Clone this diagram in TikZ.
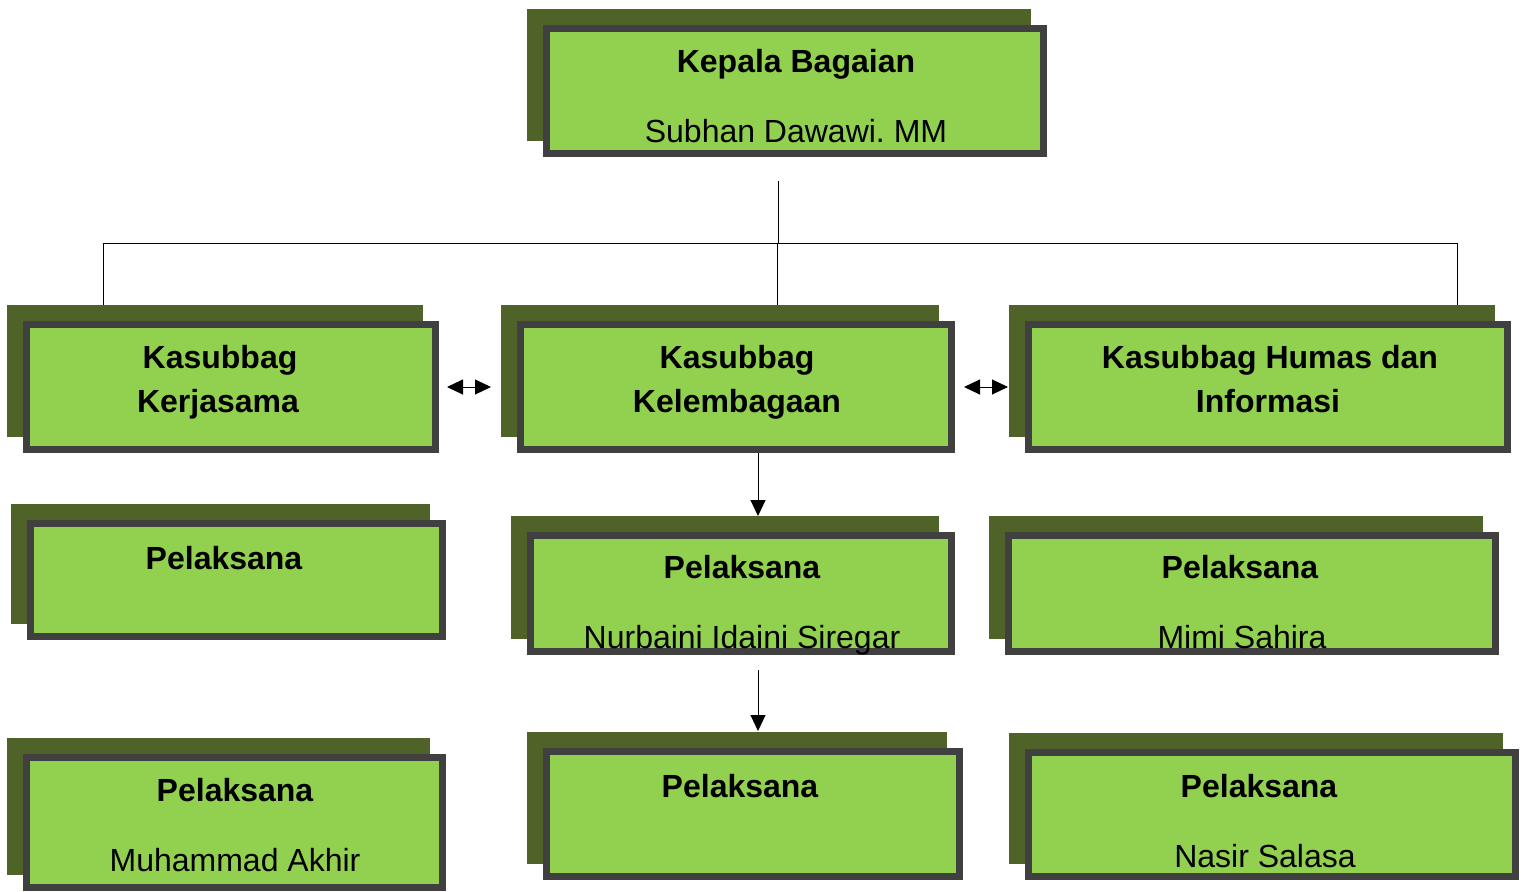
\documentclass[tikz,border=0pt]{standalone}
\usepackage{fontspec}
\setmainfont{Liberation Sans}
\usetikzlibrary{shadows,calc,arrows.meta}
\definecolor{boxgreen}{HTML}{92D050}
\definecolor{boxedge}{HTML}{404040}
\definecolor{shadowgreen}{HTML}{4F6228}
\tikzstyle{unitbox} = [rectangle, fill=boxgreen, draw=boxedge, line width=3.5pt, minimum height=62.5pt, general shadow={fill=shadowgreen, draw=shadowgreen, shadow xshift=-8pt, shadow yshift=8pt}]
\tikzstyle{headtext} = [anchor=base, inner sep=0pt, font=\fontsize{16}{19}\selectfont\bfseries]
\tikzstyle{persontext} = [anchor=base, inner sep=0pt, font=\fontsize{16}{19}\selectfont]
\tikzstyle{wire} = [line width=0.5pt]
\tikzstyle{arrow} = [line width=0.5pt, -{Triangle[length=8pt,width=7.5pt]}]
\tikzstyle{dblarrow} = [line width=0.5pt, {Triangle[length=8pt,width=7.5pt]}-{Triangle[length=8pt,width=7.5pt]}]
\frenchspacing

\begin{document}
\begin{tikzpicture}[x=0.5pt, y=-0.5pt]
\useasboundingbox (0,0) rectangle (1523,891);

\node (kepala) [unitbox, minimum width=248.5pt] at (795,91) {};
\node (kerja) [unitbox, minimum width=204.5pt] at (231,387) {};
\node (lembaga) [unitbox, minimum width=215.5pt] at (736,387) {};
\node (humas) [unitbox, minimum width=239.5pt] at (1268,387) {};
\node (pkerja) [unitbox, minimum width=206pt, minimum height=56.5pt] at (236.5,580) {};
\node (plembaga) [unitbox, minimum width=210.5pt, minimum height=58pt] at (741,593.5) {};
\node (phumas) [unitbox, minimum width=243.5pt, minimum height=58pt] at (1252,593.5) {};
\node (pkerjab) [unitbox, minimum width=208pt, minimum height=65pt] at (234.5,822.5) {};
\node (plembagab) [unitbox, minimum width=206.5pt, minimum height=62.5pt] at (753,814) {};
\node (phumasb) [unitbox, minimum width=243.5pt, minimum height=62pt] at (1272,814.5) {};

\node (kepalaT) [headtext] at (796,72) {Kepala Bagaian};
\node (kepalaN) [persontext] at (796,142) {Subhan Dawawi. MM};
\node (kerjaT) [headtext] at (220,368) {Kasubbag};
\node (kerjaU) [headtext] at (218,412) {Kerjasama};
\node (lembagaT) [headtext] at (737,368) {Kasubbag};
\node (lembagaU) [headtext] at (737,412) {Kelembagaan};
\node (humasT) [headtext] at (1270,368) {Kasubbag Humas dan};
\node (humasU) [headtext] at (1268,412) {Informasi};
\node (pkerjaT) [headtext] at (224,569) {Pelaksana};
\node (plembagaT) [headtext] at (742,578) {Pelaksana};
\node (plembagaN) [persontext] at (742,648) {Nurbaini Idaini Siregar};
\node (phumasT) [headtext] at (1240,578) {Pelaksana};
\node (phumasN) [persontext] at (1242,648) {Mimi Sahira};
\node (pkerjabT) [headtext] at (235,801) {Pelaksana};
\node (pkerjabN) [persontext] at (235,871) {Muhammad Akhir};
\node (plembagabT) [headtext] at (740,797) {Pelaksana};
\node (phumasbT) [headtext] at (1259,797) {Pelaksana};
\node (phumasbN) [persontext] at (1265,867) {Nasir Salasa};

% lines from the head
\coordinate (kepalaout) at (778,181);
\coordinate (hub) at (778,243);
\coordinate (kerjain) at (103,305);
\coordinate (lembagain) at (777,305);
\coordinate (humasin) at (1457,305);
\draw [wire] (kepalaout) -- (hub);
\draw [wire] (hub) -| (kerjain);
\draw [wire] (hub) -| (humasin);
\draw [wire] (lembagain |- hub) -- (lembagain);

\draw [dblarrow] ($(kerja.east)+(8,0)$) -- ($(lembaga.west)+(-26,0)$);
\draw [dblarrow] ($(lembaga.east)+(9,0)$) -- ($(humas.west)+(-17,0)$);
\draw [arrow] ($(lembaga.south)+(22,0)$) -- ($(plembaga.north)+(17,-16)$);
\draw [arrow] ($(plembaga.south)+(17,15)$) -- ($(plembagab.north)+(5,-17)$);
\end{tikzpicture}
\end{document}
